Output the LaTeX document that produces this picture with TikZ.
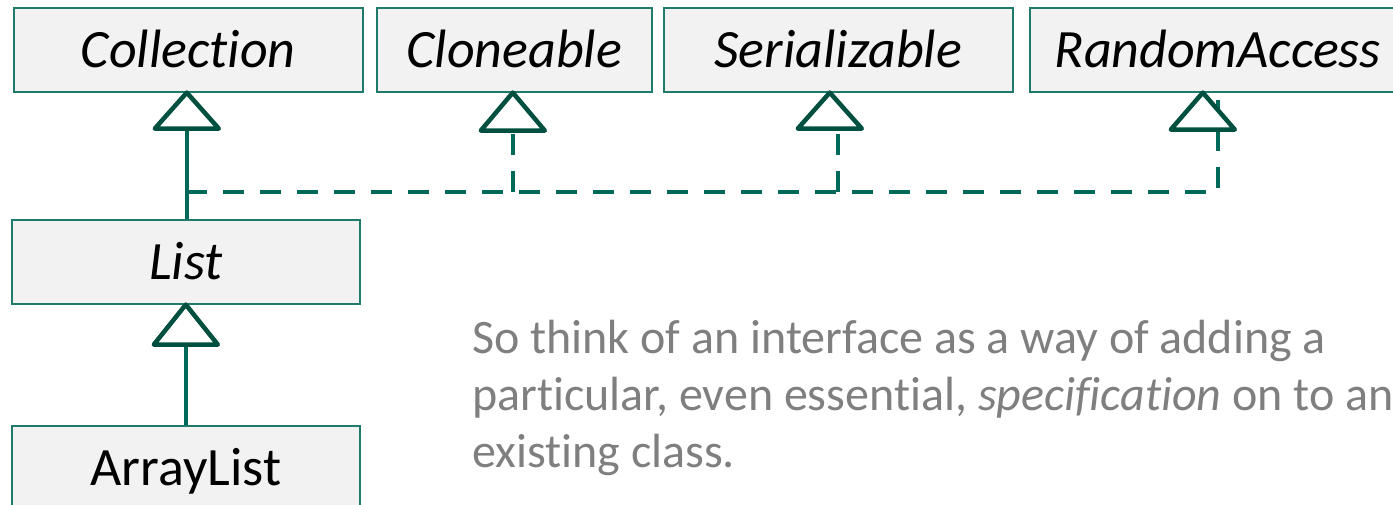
\documentclass[tikz,border=0pt]{standalone}
\usepackage{fontspec}
\setmainfont{Carlito}[Ligatures=NoCommon]
\definecolor{boxfill}{HTML}{F2F2F2}
\definecolor{boxline}{HTML}{1F7A6B}
\definecolor{headline}{HTML}{00503F}
\definecolor{linkline}{HTML}{00695A}
\definecolor{notegray}{HTML}{7F7F7F}
\begin{document}
\begin{tikzpicture}[x=1pt,y=-1pt,
  cls/.style={draw=boxline, line width=1.6pt, fill=boxfill, inner sep=0pt,
    minimum height=84pt, text height=35pt, text depth=0pt,
    font=\fontsize{54}{60}\selectfont, anchor=north west},
  stem/.style={draw=linkline, line width=4.4pt},
  realize/.style={stem, dash pattern=on 21pt off 16pt},
  head/.style={draw=headline, fill=white, line width=4.5pt, line join=round}]
\clip (0,0) rectangle (1393,505);
\fill[white] (0,0) rectangle (1393,505);

% classes and interfaces
\node[cls, minimum width=349pt] (coll)  at (13,7)   {\itshape Collection};
\node[cls, minimum width=275pt] (clone) at (376,7)  {\itshape Cloneable};
\node[cls, minimum width=349pt] (ser)   at (663,7)  {\itshape Serializable};
\node[cls, minimum width=376pt] (rand)  at (1029,7) {\itshape RandomAccess};
\node[cls, minimum width=348pt] (list)  at (11,219) {\itshape List};
\node[cls, minimum width=348pt] (alist) at (11,425) {ArrayList};

% tips of the inheritance heads
\coordinate (collTip)  at ([xshift=-1.5pt]coll.south);
\coordinate (cloneTip) at ([xshift=-1.5pt]clone.south);
\coordinate (serTip)   at ([xshift=-8.5pt]ser.south);
\coordinate (randTip)  at ([xshift=-15pt]rand.south);
\coordinate (listTip)  at (list.south);

% realization links of List (dashed)
\coordinate (join)     at (186,192);
\coordinate (randEnd)  at (1218,100);
\coordinate (cloneEnd) at (513,131);
\coordinate (serEnd)   at (838,131);
\draw[realize] (join) -| (randEnd);
\draw[realize] (cloneEnd |- join) -- (cloneEnd);
\draw[realize] (serEnd |- join) -- (serEnd);

% generalization links (solid)
\draw[stem] ([yshift=-36pt]collTip) -- (collTip |- list.north);
\draw[stem] ([yshift=-40pt]listTip) -- (listTip |- alist.north);

% hollow triangle heads
\foreach \t/\h in {collTip/36, cloneTip/38, serTip/36, randTip/37, listTip/40}
  \draw[head] (\t) -- ++(-32,\h) -- ++(64,0) -- cycle;

% note (anchored on the baseline of its last line)
\node[anchor=base west, align=left, inner sep=0pt, text=notegray,
  font=\fontsize{48}{57}\selectfont] (note) at (472,467)
  {So think of an interface as a way of adding a\\
   particular, even essential, \textit{specification} on to an\\
   existing class.};
\end{tikzpicture}
\end{document}
